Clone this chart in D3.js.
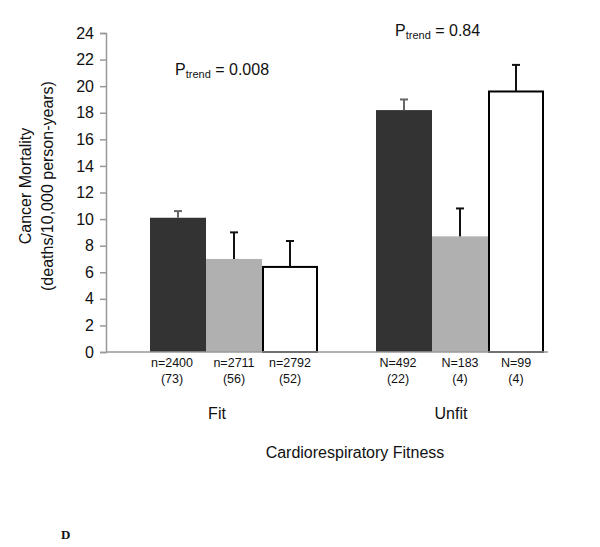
<!DOCTYPE html>
<html>
<head>
<meta charset="utf-8">
<script src="https://cdn.jsdelivr.net/npm/d3@7"></script>
<style>
  body { margin: 0; background: #fff; }
  text { font-family: "Liberation Sans", Arial, sans-serif; fill: #111; }
</style>
</head>
<body>
<svg id="chart" width="600" height="547"></svg>
<script>
// data
var groups = ["Fit", "Unfit"];
var levels = ["low", "mid", "high"];
var fitMeans = [10.1, 7.0, 6.4];
var fitUpper = [10.6, 9.0, 8.35];
var unfitMeans = [18.2, 8.7, 19.6];
var unfitUpper = [19.0, 10.8, 21.6];
var fitCounts = ["n=2400", "n=2711", "n=2792"];
var fitDeaths = ["(73)", "(56)", "(52)"];
var unfitCounts = ["N=492", "N=183", "N=99"];
var unfitDeaths = ["(22)", "(4)", "(4)"];
var pTrend = ["0.008", "0.84"];
var yTicks = [0, 2, 4, 6, 8, 10, 12, 14, 16, 18, 20, 22, 24];

var svg = d3.select("#chart");

var rows = [];
groups.forEach(function (g, gi) {
  var means = gi === 0 ? fitMeans : unfitMeans;
  var upper = gi === 0 ? fitUpper : unfitUpper;
  var counts = gi === 0 ? fitCounts : unfitCounts;
  var deaths = gi === 0 ? fitDeaths : unfitDeaths;
  levels.forEach(function (l, li) {
    rows.push({ group: g, level: l, mean: means[li], upper: upper[li], n: counts[li], d: deaths[li] });
  });
});

var axisX = 106;
var y = d3.scaleLinear().domain([0, 24]).range([352, 33]);
var x0 = d3.scaleBand().domain(groups).range([150, 544]).paddingInner(0.2566);
var x1 = d3.scaleBand().domain(levels).range([0, x0.bandwidth()]);

var fills = { low: "#333333", mid: "#b0b0b0", high: "#ffffff" };
var errColor = { low: "#666", mid: "#111", high: "#111" };
var labelDx = { Fit: [-6, 0, 0], Unfit: [-6, 0, 0] };

// y axis
var yAxis = d3.axisLeft(y).tickValues(yTicks).tickSize(6).tickPadding(6);
var gy = svg.append("g").attr("transform", "translate(" + axisX + ",0)").call(yAxis);
gy.attr("font-size", null).attr("font-family", null);
gy.select(".domain").attr("stroke", "#999").attr("stroke-width", 1.5);
gy.selectAll(".tick line").attr("stroke", "#999").attr("stroke-width", 1.5);
gy.selectAll(".tick text").style("font-size", "16px").attr("fill", "#111");

// bars
var bars = svg.append("g");
bars.selectAll("rect").data(rows).enter().append("rect")
  .attr("x", function (d) { return x0(d.group) + x1(d.level) + (d.level === "high" ? 1 : 0); })
  .attr("width", function (d) { return x1.bandwidth() - (d.level === "high" ? 2 : 0); })
  .attr("y", function (d) { return y(d.mean); })
  .attr("height", function (d) { return y(0) - y(d.mean); })
  .attr("fill", function (d) { return fills[d.level]; })
  .attr("stroke", function (d) { return d.level === "high" ? "#000" : "none"; })
  .attr("stroke-width", 2);

// error bars
var eb = svg.append("g");
rows.forEach(function (d) {
  var cx = x0(d.group) + x1(d.level) + x1.bandwidth() / 2;
  var c = errColor[d.level];
  eb.append("line").attr("x1", cx).attr("x2", cx)
    .attr("y1", y(d.mean)).attr("y2", y(d.upper))
    .attr("stroke", c).attr("stroke-width", 2);
  eb.append("line").attr("x1", cx - 4).attr("x2", cx + 4)
    .attr("y1", y(d.upper)).attr("y2", y(d.upper))
    .attr("stroke", c).attr("stroke-width", 2);
});

// x baseline
svg.append("line").attr("x1", axisX).attr("x2", 548)
  .attr("y1", y(0)).attr("y2", y(0))
  .attr("stroke", "#999").attr("stroke-width", 1.5);

// n labels
rows.forEach(function (d) {
  var li = levels.indexOf(d.level);
  var cx = x0(d.group) + x1(d.level) + x1.bandwidth() / 2 + labelDx[d.group][li];
  svg.append("text").attr("x", cx).attr("y", 367).attr("text-anchor", "middle")
    .style("font-size", "12.5px").text(d.n);
  svg.append("text").attr("x", cx).attr("y", 383).attr("text-anchor", "middle")
    .style("font-size", "12.5px").text(d.d);
});

// group labels
var groupDx = { Fit: -17, Unfit: -9 };
groups.forEach(function (g) {
  svg.append("text").attr("x", x0(g) + x0.bandwidth() / 2 + groupDx[g]).attr("y", 419)
    .attr("text-anchor", "middle").style("font-size", "16px").text(g);
});

svg.append("text").attr("x", 355).attr("y", 458).attr("text-anchor", "middle")
  .style("font-size", "16px").text("Cardiorespiratory  Fitness");

// y label
var yl = svg.append("g").attr("transform", "translate(0,186) rotate(-90)");
yl.append("text").attr("x", 0).attr("y", 31).attr("text-anchor", "middle")
  .style("font-size", "16px").text("Cancer Mortality");
yl.append("text").attr("x", 0).attr("y", 53).attr("text-anchor", "middle")
  .style("font-size", "16px").text("(deaths/10,000  person-years)");

// p trend annotations
function ptrend(xp, yp, val) {
  var t = svg.append("text").attr("x", xp).attr("y", yp).style("font-size", "16px");
  t.append("tspan").text("P");
  t.append("tspan").style("font-size", "11px").attr("dy", 3).text("trend");
  t.append("tspan").attr("dy", -3).text(" = " + val);
}
ptrend(175, 75, pTrend[0]);
ptrend(395, 36, pTrend[1]);

svg.append("text").attr("x", 61).attr("y", 539)
  .style("font-family", "'Liberation Serif', 'Times New Roman', serif")
  .attr("font-weight", "bold").style("font-size", "13px").text("D");
</script>
</body>
</html>
